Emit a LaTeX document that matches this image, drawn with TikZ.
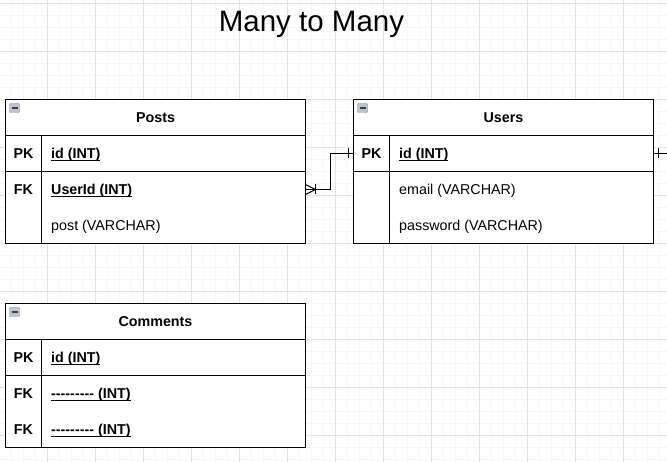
\documentclass[tikz,border=0pt]{standalone}
\usepackage{fontspec}
\setmainfont{Liberation Sans}
\usetikzlibrary{positioning, calc}
\definecolor{gridminor}{HTML}{F6F6F6}
\definecolor{gridmajor}{HTML}{E2E2E2}
\definecolor{iconfill}{HTML}{BCC5CF}
\definecolor{iconline}{HTML}{7F8892}
\newcommand\ulfield[1]{\setbox0\hbox{#1}\rlap{\rule[-2.2pt]{\wd0}{0.9pt}}\box0}
\newcommand\dashrun{-\kern0pt-\kern0pt-\kern0pt-\kern0pt-\kern0pt-\kern0pt-\kern0pt-\kern0pt-}
\tikzset{
	tblline/.style={line width=1pt, black},
	tbltitle/.style={font=\fontsize{14.3}{16}\selectfont\bfseries, anchor=base, inner sep=0pt},
	keycell/.style={font=\fontsize{14.3}{16}\selectfont\bfseries, anchor=base, inner sep=0pt},
	fieldtxt/.style={font=\fontsize{14.3}{16}\selectfont, anchor=base west, inner sep=0pt},
	keyfield/.style={fieldtxt, font=\fontsize{14.3}{16}\selectfont\bfseries},
	minusbox/.style={draw=iconline, fill=iconfill, minimum width=10pt, minimum height=9pt, inner sep=0pt, rounded corners=1pt,
		path picture={\draw[line width=1.2pt, black!75] ([xshift=2pt]path picture bounding box.west) -- ([xshift=-2pt]path picture bounding box.east);}}
}

\begin{document}
\begin{tikzpicture}[x=1pt, y=-1pt]
	\useasboundingbox (0,0) rectangle (667,462);
	\fill[white] (0,0) rectangle (667,462);
	\foreach \x in {-0.5,11.5,...,667} \draw[gridminor, line width=0.8pt] (\x,0) -- (\x,462);
	\foreach \y in {3.5,15.5,...,462} \draw[gridminor, line width=0.8pt] (0,\y) -- (667,\y);
	\foreach \x in {-0.5,47.5,...,667} \draw[gridmajor, line width=0.8pt] (\x,0) -- (\x,462);
	\foreach \y in {3.5,51.5,...,462} \draw[gridmajor, line width=0.8pt] (0,\y) -- (667,\y);

	\node[font=\fontsize{29.5}{32}\selectfont, anchor=base] (title) at (311.5,31.5) {Many to Many};

	\fill[white] (5.5,99.5) rectangle (305.5,243.5);
	\draw[tblline] (5.5,99.5) rectangle (305.5,243.5);
	\draw[tblline] (5.5,135.5) -- (305.5,135.5) (5.5,171.5) -- (305.5,171.5) (41.5,135.5) -- (41.5,243.5);
	\node[minusbox] (posts-min) at (14.5,108) {};
	\node[tbltitle] (posts) at (155.5,122.5) {Posts};
	\node[keycell] (posts-pk) at (23.5,158.5) {PK};
	\node[keyfield] (posts-id) at (51,158.5) {\ulfield{id (INT)}};
	\node[keycell] (posts-fk) at (23.5,194.5) {FK};
	\node[keyfield] (posts-userid) at (51,194.5) {\ulfield{UserId (INT)}};
	\node[fieldtxt] (posts-post) at (51,230.5) {post (VARCHAR)};

	\fill[white] (353.5,99.5) rectangle (653.5,243.5);
	\draw[tblline] (353.5,99.5) rectangle (653.5,243.5);
	\draw[tblline] (353.5,135.5) -- (653.5,135.5) (353.5,171.5) -- (653.5,171.5) (389.5,135.5) -- (389.5,243.5);
	\node[minusbox] (users-min) at (362.5,108) {};
	\node[tbltitle] (users) at (503.5,122.5) {Users};
	\node[keycell] (users-pk) at (371.5,158.5) {PK};
	\node[keyfield] (users-id) at (399,158.5) {\ulfield{id (INT)}};
	\node[fieldtxt] (users-email) at (399,194.5) {email (VARCHAR)};
	\node[fieldtxt] (users-password) at (399,230.5) {password (VARCHAR)};

	\fill[white] (5.5,303.5) rectangle (305.5,447.5);
	\draw[tblline] (5.5,303.5) rectangle (305.5,447.5);
	\draw[tblline] (5.5,339.5) -- (305.5,339.5) (5.5,375.5) -- (305.5,375.5) (41.5,339.5) -- (41.5,447.5);
	\node[minusbox] (comments-min) at (14.5,312) {};
	\node[tbltitle] (comments) at (155.5,326.5) {Comments};
	\node[keycell] (comments-pk) at (23.5,362.5) {PK};
	\node[keyfield] (comments-id) at (51,362.5) {\ulfield{id (INT)}};
	\node[keycell] (comments-fk1) at (23.5,398.5) {FK};
	\node[keyfield] (comments-ref1) at (51,398.5) {\ulfield{\dashrun\ (INT)}};
	\node[keycell] (comments-fk2) at (23.5,434.5) {FK};
	\node[keyfield] (comments-ref2) at (51,434.5) {\ulfield{\dashrun\ (INT)}};

	\coordinate (posts-end) at (305.5,189.5);
	\coordinate (users-end) at (353.5,153.5);
	\coordinate (users-out) at (653.5,153.5);
	\coordinate (page-edge) at (667,153.5);
	\draw[tblline] (posts-end) -- ++(24.5,0) |- (users-end);
	\draw[tblline] ($(posts-end)+(0,-5)$) -- ++(10,5) -- ++(-10,5);
	\draw[tblline] ($(posts-end)+(10,-5)$) -- ++(0,10);
	\draw[tblline] ($(users-end)+(-5,-5)$) -- ++(0,10);
	\draw[tblline] (users-out) -- (page-edge);
	\draw[tblline] ($(users-out)+(5,-5)$) -- ++(0,10);
\end{tikzpicture}
\end{document}
